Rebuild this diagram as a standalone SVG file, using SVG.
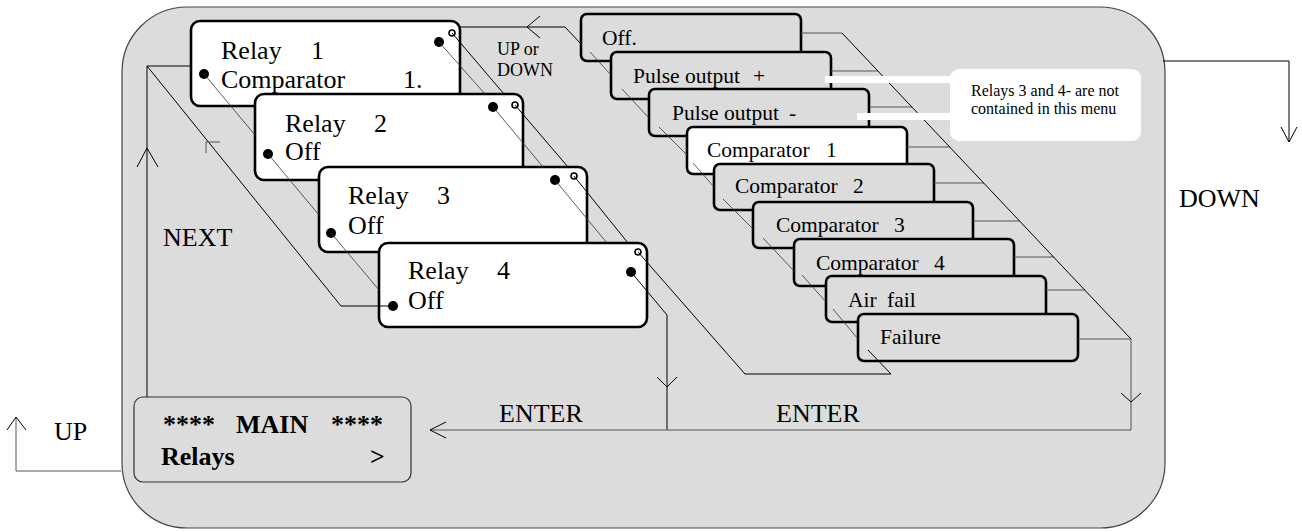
<svg xmlns="http://www.w3.org/2000/svg" width="1302" height="532" viewBox="0 0 1302 532">
<style>
.bg{fill:#dcdcdc;stroke:#444;stroke-width:1.2}
.relay{fill:#fff;stroke:#000;stroke-width:2.6}
.menu{fill:#dcdcdc;stroke:#000;stroke-width:2.6}
.menuw{fill:#fff;stroke:#000;stroke-width:2.6}
.mainbox{fill:#dcdcdc;stroke:#333;stroke-width:1.2}
text{font-family:'Liberation Serif','DejaVu Serif','Times New Roman',serif;fill:#000}
.t26{font-size:26px}
.t21{font-size:21.5px}
.t18{font-size:18px}
.t16{font-size:16px}
.b26{font-size:26px;font-weight:bold}
.ln{fill:none;stroke:#000;stroke-width:1}
.lg{fill:none;stroke:#555;stroke-width:1}
.lt{fill:none;stroke:#333;stroke-width:0.8}
.ah{fill:none;stroke:#000;stroke-width:1}
.dot{fill:#000}
.odot{fill:#fff;stroke:#000;stroke-width:1.6}
</style>
<rect class="bg" x="122" y="7" width="1043" height="521" rx="65" ry="65"/>

<g id="relay1">
<rect class="relay" x="191" y="21" width="269" height="85" rx="9"/>
<text class="t26" font-family="Liberation Serif, serif" y="59"><tspan x="221">Relay</tspan><tspan x="311">1</tspan></text>
<text class="t26" font-family="Liberation Serif, serif" y="88"><tspan x="221">Comparator</tspan><tspan x="403">1.</tspan></text>
<circle class="dot" cx="204" cy="74" r="5"/>
<circle class="dot" cx="439" cy="42" r="5"/>
<circle class="odot" cx="452" cy="33" r="3"/>
</g>
<g id="relay2">
<rect class="relay" x="255" y="94" width="268" height="86" rx="9"/>
<text class="t26" y="132"><tspan x="285">Relay</tspan><tspan x="374">2</tspan></text>
<text class="t26" x="285" y="160">Off</text>
<circle class="dot" cx="268" cy="154" r="5"/>
<circle class="dot" cx="493" cy="107" r="5"/>
<circle class="odot" cx="515" cy="105" r="3"/>
</g>
<g id="relay3">
<rect class="relay" x="319" y="167" width="268" height="85" rx="9"/>
<text class="t26" y="204"><tspan x="348">Relay</tspan><tspan x="437">3</tspan></text>
<text class="t26" x="348" y="234">Off</text>
<circle class="dot" cx="331" cy="233" r="5"/>
<circle class="dot" cx="555" cy="180" r="5"/>
<circle class="odot" cx="574" cy="176" r="3"/>
</g>
<g id="relay4">
<rect class="relay" x="379" y="243" width="268" height="84" rx="9"/>
<text class="t26" y="279"><tspan x="408">Relay</tspan><tspan x="497">4</tspan></text>
<text class="t26" x="408" y="309">Off</text>
<circle class="dot" cx="393" cy="306" r="5"/>
<circle class="dot" cx="631" cy="272" r="5"/>
<circle class="odot" cx="638" cy="252" r="3"/>
</g>

<g id="opt-off"><rect class="menu" x="581" y="14" width="220" height="47" rx="6"/><text class="t21" x="602" y="45">Off.</text></g>
<g id="opt-pulse-plus"><rect class="menu" x="611" y="52" width="220" height="47" rx="6"/><text class="t21" y="83"><tspan x="633">Pulse output</tspan><tspan x="753">+</tspan></text></g>
<g id="opt-pulse-minus"><rect class="menu" x="649" y="89" width="220" height="47" rx="6"/><text class="t21" y="120"><tspan x="672">Pulse output</tspan><tspan x="789">-</tspan></text></g>
<g id="opt-comp1"><rect class="menuw" x="687" y="127" width="220" height="47" rx="6"/><text class="t21" y="157"><tspan x="707">Comparator</tspan><tspan x="826">1</tspan></text></g>
<g id="opt-comp2"><rect class="menu" x="714" y="164" width="220" height="46" rx="6"/><text class="t21" y="193"><tspan x="735">Comparator</tspan><tspan x="853">2</tspan></text></g>
<g id="opt-comp3"><rect class="menu" x="753" y="202" width="220" height="46" rx="6"/><text class="t21" y="232"><tspan x="776">Comparator</tspan><tspan x="894">3</tspan></text></g>
<g id="opt-comp4"><rect class="menu" x="794" y="239" width="220" height="47" rx="6"/><text class="t21" y="270"><tspan x="816">Comparator</tspan><tspan x="934">4</tspan></text></g>
<g id="opt-airfail"><rect class="menu" x="826" y="276" width="220" height="46" rx="6"/><text class="t21" y="307"><tspan x="848">Air</tspan><tspan x="887">fail</tspan></text></g>
<g id="opt-failure"><rect class="menu" x="858" y="314" width="220" height="47" rx="6"/><text class="t21" x="880" y="344">Failure</text></g>

<g id="main">
<rect class="mainbox" x="134" y="397" width="277" height="85" rx="9"/>
<text class="b26" y="433"><tspan x="163">****</tspan><tspan x="236">MAIN</tspan><tspan x="331">****</tspan></text>
<text class="b26" y="465"><tspan x="161">Relays</tspan><tspan x="370">&gt;</tspan></text>
</g>

<g id="connectors">
<path class="lt" d="M204,74 L255,135"/>
<path class="lt" d="M268,154 L319,215"/>
<path class="lt" d="M331,233 L379,290"/>
<path class="ln" d="M393,306 H341 L147,66 H191"/>
<path class="ln" d="M147,397 V66"/>
<path class="ah" d="M137,167 L147,148 L158,167"/>
<path class="lg" d="M206,153 V142 H220"/>
<path class="lt" d="M439,42 L485,94"/>
<path class="ln" d="M452,33 L504,94"/>
<path class="lt" d="M493,107 L543,167"/>
<path class="ln" d="M515,105 L568,167"/>
<path class="lt" d="M555,180 L607,243"/>
<path class="ln" d="M574,176 L628,243"/>
<path class="ln" d="M631,272 L667,315 V430"/>
<path class="ah" d="M657,377 L667,387 L677,377"/>
<path class="ln" d="M638,252 L745,374 H891 L868,350"/>
<path class="ln" d="M460,27 H565 L581,44"/>
<path class="ah" d="M540,16 L527,27 L540,38"/>
<path class="lt" d="M590,52 L611,75"/>
<path class="lt" d="M622,89 L649,118"/>
<path class="lt" d="M659,127 L687,155"/>
<path class="lt" d="M693,163 L714,187"/>
<path class="lt" d="M723,199 L753,229"/>
<path class="lt" d="M763,238 L794,271"/>
<path class="lt" d="M802,275 L826,302"/>
<path class="lt" d="M833,309 L858,339"/>
<path class="lg" d="M801,33 H842"/>
<path class="lg" d="M831,71 H878"/>
<path class="lg" d="M869,107 H912"/>
<path class="lg" d="M907,147 H950"/>
<path class="lg" d="M934,183 H984"/>
<path class="lg" d="M973,221 H1020"/>
<path class="lg" d="M1014,257 H1054"/>
<path class="lg" d="M1046,290 H1085"/>
<path class="lg" d="M1078,339 H1131"/>
<path class="ln" d="M842,33 L1131,339"/>
<path class="lg" d="M1131,339 V430 H430"/>
<path class="ah" d="M1121,393 L1131,402 L1141,393"/>
<path class="ah" d="M446,422 L430,430 L446,438"/>
<path class="lg" d="M121,471 H16 V417"/>
<path class="ah" d="M7,430 L16,417 L26,430"/>
<path class="ln" d="M1163,61 H1289 V142"/>
<path class="ah" d="M1281,127 L1289,142 L1297,127"/>
</g>

<g id="labels">
<text class="t18" x="497" y="55">UP or</text>
<text class="t18" x="497" y="76">DOWN</text>
<text class="t26" x="163" y="246">NEXT</text>
<text class="t26" x="499" y="422">ENTER</text>
<text class="t26" x="776" y="422">ENTER</text>
<text class="t26" x="54" y="440">UP</text>
<text class="t26" x="1179" y="207">DOWN</text>
</g>

<g id="note">
<rect x="825" y="76" width="126" height="7" fill="#fff"/>
<rect x="857" y="113" width="94" height="7" fill="#fff"/>
<rect x="950" y="69" width="191" height="72" rx="9" fill="#fff"/>
<text class="t16" x="971" y="96">Relays 3 and 4- are not</text>
<text class="t16" x="971" y="114">contained in this menu</text>
</g>
</svg>
